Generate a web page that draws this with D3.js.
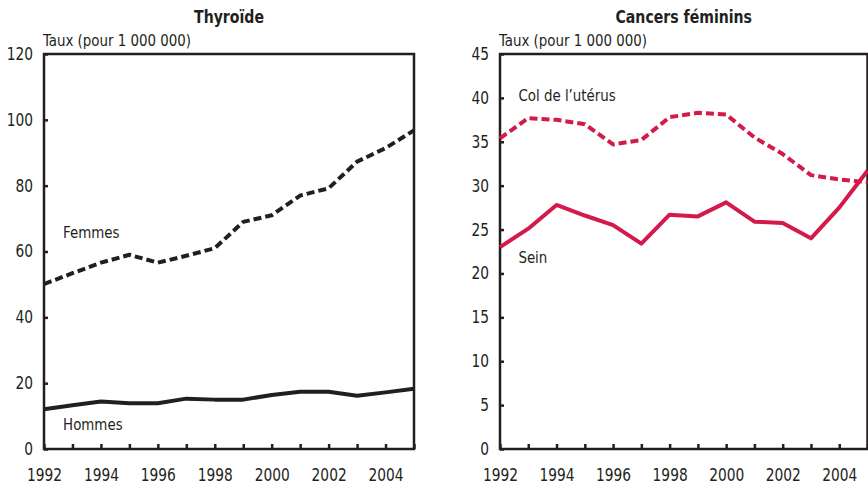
<!DOCTYPE html>
<html lang="fr">
<head>
<meta charset="UTF-8">
<title>Thyroïde et cancers féminins</title>
<style>
    html, body { margin: 0; background: #fff; }
    svg { display: block; }
    text { font-family: "DejaVu Sans Condensed", "Liberation Sans", sans-serif; font-stretch: semi-condensed; fill: #231f20; }
    .title { font-weight: bold; font-size: 18px; }
    .lbl { font-size: 16px; }
    .axis text { font-size: 17px; }
</style>
</head>
<body>
<div id="chart"></div>
<script src="https://d3js.org/d3.v7.min.js"></script>
<script>
// data
var years = [1992, 1993, 1994, 1995, 1996, 1997, 1998, 1999, 2000, 2001, 2002, 2003, 2004, 2005];
var yearLabels = [1992, 1994, 1996, 1998, 2000, 2002, 2004];

var femmes = [50.1, 53.4, 56.6, 59.0, 56.6, 58.7, 61.0, 69.0, 71.0, 77.0, 79.2, 87.3, 91.4, 96.8];
var hommes = [12.1, 13.3, 14.4, 13.9, 13.9, 15.3, 15.0, 15.0, 16.4, 17.4, 17.4, 16.2, 17.2, 18.3];

var colUterus = [35.4, 37.7, 37.5, 37.0, 34.7, 35.2, 37.8, 38.3, 38.1, 35.5, 33.6, 31.2, 30.7, 30.4];
var sein = [23.0, 25.1, 27.8, 26.6, 25.5, 23.4, 26.7, 26.5, 28.1, 25.9, 25.75, 24.0, 27.5, 31.7];

var thyroTicks = [0, 20, 40, 60, 80, 100, 120];
var cancerTicks = [0, 5, 10, 15, 20, 25, 30, 35, 40, 45];

var ink = "#231f20", red = "#d31a4b";

var svg = d3.select("#chart").append("svg")
    .attr("width", 868).attr("height", 488);

// squeeze text horizontally to mimic a condensed face
function condense(sel, k) {
    sel.each(function () {
        var w = this.getComputedTextLength();
        if (w > 0) d3.select(this).attr("textLength", w * k).attr("lengthAdjust", "spacingAndGlyphs");
    });
}

function panel(opt) {
    var x = d3.scaleLinear().domain([1992, 2005]).range([opt.left, opt.right]);
    var y = d3.scaleLinear().domain([0, opt.max]).range([449, 54]);
    var g = svg.append("g");

    g.append("text").attr("class", "title")
        .attr("x", (opt.left + opt.right) / 2).attr("y", 23)
        .attr("text-anchor", "middle").text(opt.title)
        .call(condense, 0.87);

    g.append("text").attr("class", "lbl")
        .attr("x", opt.left - 1).attr("y", 46)
        .text("Taux (pour 1 000 000)")
        .call(condense, 0.93);

    // frame
    g.append("rect")
        .attr("x", opt.left).attr("y", 54)
        .attr("width", opt.right - opt.left).attr("height", 449 - 54)
        .attr("fill", "none").attr("stroke", ink).attr("stroke-width", 2.5);

    // x axis, ticks pointing inward
    var xa = g.append("g").attr("class", "axis")
        .attr("transform", "translate(0,449)")
        .call(d3.axisBottom(x).tickValues(years).tickSize(-5).tickFormat(function (d) {
            return yearLabels.indexOf(d) >= 0 ? d : "";
        }));
    xa.select(".domain").remove();
    xa.selectAll("line").attr("stroke", ink).attr("stroke-width", 2.5);
    xa.selectAll("text").attr("y", 32).attr("dy", 0).call(condense, 0.9);

    var ya = g.append("g").attr("class", "axis")
        .attr("transform", "translate(" + opt.left + ",0)")
        .call(d3.axisLeft(y).tickValues(opt.ticks).tickSize(-4).tickPadding(11));
    ya.select(".domain").remove();
    ya.selectAll("line").attr("stroke", ink).attr("stroke-width", 2.5);
    ya.selectAll("text").attr("x", -11).call(condense, 0.9);

    var line = d3.line().x(function (d, i) { return x(years[i]); }).y(function (d) { return y(d); });

    opt.series.forEach(function (s) {
        g.append("path")
            .attr("d", line(s.values))
            .attr("fill", "none")
            .attr("stroke", s.color)
            .attr("stroke-width", 4)
            .attr("stroke-linejoin", "round")
            .attr("stroke-dasharray", s.dash ? "8,4" : null);
        g.append("text").attr("class", "lbl")
            .attr("x", x(s.lx)).attr("y", y(s.ly))
            .text(s.name)
            .call(condense, 0.93);
    });
}

panel({
    title: "Thyroïde", left: 44, right: 414, max: 120, ticks: thyroTicks,
    series: [
        { name: "Femmes", values: femmes, color: ink, dash: true, lx: 1992.67, ly: 64 },
        { name: "Hommes", values: hommes, color: ink, dash: false, lx: 1992.67, ly: 5.8 }
    ]
});

panel({
    title: "Cancers féminins", left: 500, right: 867.5, max: 45, ticks: cancerTicks,
    series: [
        { name: "Col de l\u2019utérus", values: colUterus, color: red, dash: true, lx: 1992.65, ly: 39.7 },
        { name: "Sein", values: sein, color: red, dash: false, lx: 1992.65, ly: 21.2 }
    ]
});
</script>
</body>
</html>
